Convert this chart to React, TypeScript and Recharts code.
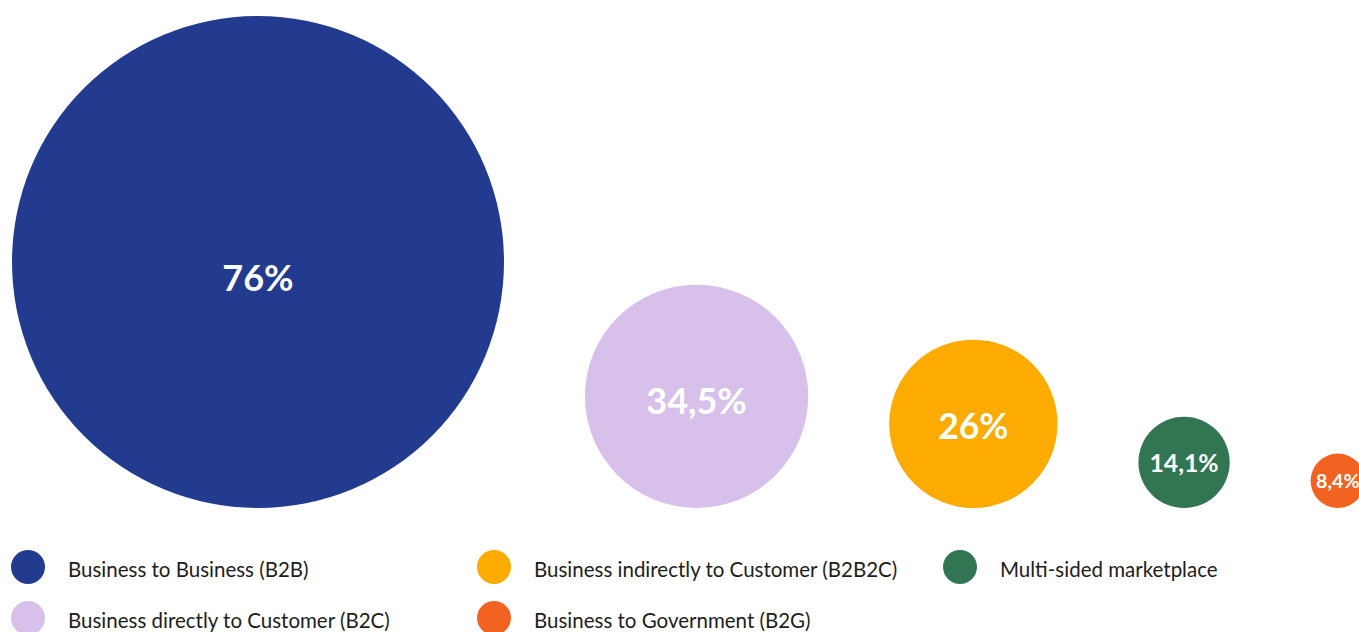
import React from 'react';
import { ScatterChart, Scatter, XAxis, YAxis, ZAxis, Cell } from 'recharts';

// Business models share (%), drawn as bottom-aligned bubbles
const categories = [
  'Business to Business (B2B)',
  'Business directly to Customer (B2C)',
  'Business indirectly to Customer (B2B2C)',
  'Multi-sided marketplace',
  'Business to Government (B2G)',
];
const shares = [76, 34.5, 26, 14.1, 8.4];
const colors = ['#223b8f', '#d7c1ea', '#fdab00', '#317553', '#f26322'];
// legend reads column by column
const legendOrder = [0, 1, 2, 4, 3];

// layout in value units: bubbles side by side, gap between them
const GAP = 25;
const Y_MAX = 152;
const PLOT_H = 492;
const PX_PER_UNIT = PLOT_H / Y_MAX;
const CHART_W = 1359;
const MARGIN_LEFT = 12;
const X_MAX = (CHART_W - MARGIN_LEFT) / PX_PER_UNIT;

let cursor = 0;
const bubbles = shares.map((v, i) => {
  const x = cursor + v;
  cursor += 2 * v + GAP;
  // y = v so every bubble sits on the same baseline
  return { name: categories[i], value: v, x, y: v, color: colors[i] };
});

const fmt = (v: number) => String(v).replace('.', ',') + '%';

const Bubble = (props: any) => {
  const { cx, cy, size, payload } = props;
  const r = size;
  const fs = Math.min(36, 12 + r * 0.28);
  const dy = Math.max(0, (r - 60) * 0.08);
  return (
    <g>
      <circle cx={cx} cy={cy} r={r} fill={payload.color} />
      <text
        x={cx}
        y={cy + dy}
        textAnchor="middle"
        dominantBaseline="central"
        fill="#ffffff"
        fontFamily="Lato, sans-serif"
        fontWeight={700}
        fontSize={fs}
      >
        {fmt(payload.value)}
      </text>
    </g>
  );
};

export default function App() {
  return (
    <div style={{ position: 'absolute', left: 0, top: 0, width: CHART_W, height: 632, background: '#fff', overflow: 'hidden' }}>
      <ScatterChart width={CHART_W} height={520} margin={{ top: 16, right: 0, bottom: 12, left: MARGIN_LEFT }}>
        <XAxis type="number" dataKey="x" domain={[0, X_MAX]} hide />
        <YAxis type="number" dataKey="y" domain={[0, Y_MAX]} hide />
        <ZAxis type="number" dataKey="value" domain={[0, 76]} range={[0, 76 * PX_PER_UNIT]} />
        <Scatter data={bubbles} shape={<Bubble />} isAnimationActive={false}>
          {bubbles.map((b) => (
            <Cell key={b.name} fill={b.color} />
          ))}
        </Scatter>
      </ScatterChart>

      {/* legend, column-wise in two rows */}
      <div
        style={{
          position: 'absolute',
          left: 11,
          top: 550,
          display: 'grid',
          gridAutoFlow: 'column',
          gridTemplateRows: '34px 34px',
          gridTemplateColumns: '466px 466px 400px',
          rowGap: 17,
          fontFamily: 'Lato, sans-serif',
          fontSize: 20.5,
          color: '#1d1d1b',
        }}
      >
        {legendOrder.map((i) => (
          <div key={categories[i]} style={{ display: 'flex', alignItems: 'center' }}>
            <span style={{ width: 34, height: 34, borderRadius: '50%', background: colors[i], display: 'inline-block', flex: 'none' }} />
            <span style={{ marginLeft: 23, whiteSpace: 'nowrap', position: 'relative', top: 2 }}>{categories[i]}</span>
          </div>
        ))}
      </div>
    </div>
  );
}
